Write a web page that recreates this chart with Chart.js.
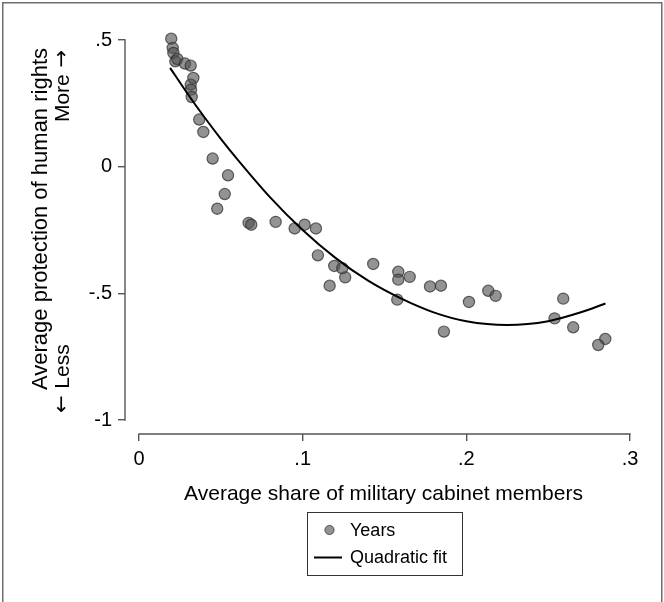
<!DOCTYPE html>
<html>
<head>
<meta charset="utf-8">
<script src="https://cdn.jsdelivr.net/npm/chart.js@4.4.1/dist/chart.umd.min.js"></script>
<style>
  html, body { margin: 0; padding: 0; background: #fff; }
  #c { display: block; }
</style>
</head>
<body>
<canvas id="c" width="664" height="602"></canvas>
<script>
// ---- Data ----
const yearsX = [0.0197, 0.0206, 0.0210, 0.0222, 0.0234, 0.0281, 0.0316, 0.0332, 0.0316, 0.0318,
                0.0322, 0.0368, 0.0393, 0.0450, 0.0544, 0.0524, 0.0478, 0.0670, 0.0686, 0.0835,
                0.0951, 0.1012, 0.1081, 0.1093, 0.1193, 0.1242, 0.1260, 0.1165, 0.1431, 0.1584,
                0.1584, 0.1654, 0.1578, 0.1778, 0.1845, 0.1863, 0.2016, 0.2134, 0.2179, 0.2592,
                0.2539, 0.2653, 0.2849, 0.2806];
const yearsY = [0.505, 0.469, 0.449, 0.416, 0.425, 0.407, 0.399, 0.350, 0.324, 0.304,
                0.275, 0.186, 0.137, 0.032, -0.034, -0.108, -0.166, -0.222, -0.229, -0.218,
                -0.244, -0.229, -0.244, -0.350, -0.392, -0.401, -0.437, -0.470, -0.384, -0.415,
                -0.446, -0.435, -0.525, -0.473, -0.470, -0.651, -0.534, -0.490, -0.510, -0.521,
                -0.599, -0.634, -0.680, -0.704];
const fitX = [0.019, 0.030, 0.040, 0.050, 0.060, 0.080, 0.100, 0.120, 0.140, 0.160, 0.180, 0.200, 0.225, 0.250, 0.270, 0.285];
const fitY = [0.390, 0.285, 0.195, 0.110, 0.030, -0.120, -0.250, -0.360, -0.450, -0.520, -0.575, -0.610, -0.625, -0.610, -0.575, -0.540];

const xTickValues = [0, 0.1, 0.2, 0.3];
const xTickLabels = ['0', '.1', '.2', '.3'];
const yTickValues = [-1, -0.5, 0, 0.5];
const yTickLabels = ['-1', '-.5', '0', '.5'];

const xTitle = 'Average share of military cabinet members';
const yTitle = 'Average protection of human rights';
const yLessWord = 'Less';
const yMoreWord = 'More';
const arrowLeft = '\u2190';
const arrowRight = '\u2192';
const legendLabels = ['Years', 'Quadratic fit'];

// ---- Styles ----
const FONT = '"Liberation Sans", Arial, Helvetica, sans-serif';
const ARROW_FONT = '"DejaVu Sans", sans-serif';
const pointFill = 'rgba(80,80,80,0.62)';
const pointEdge = 'rgba(45,45,45,0.72)';
const axisColor = '#555';

const yearsPts = yearsX.map((x, i) => ({ x: x, y: yearsY[i] }));
const fitPts = fitX.map((x, i) => ({ x: x, y: fitY[i] }));

function labelFor(values, labels, v) {
  for (let i = 0; i < values.length; i++) if (Math.abs(values[i] - v) < 1e-9) return labels[i];
  return '';
}

const decor = {
  id: 'decor',
  beforeDraw(chart) {
    const ctx = chart.ctx;
    ctx.save();
    ctx.fillStyle = '#fff';
    ctx.fillRect(0, 0, chart.width, chart.height);
    ctx.restore();
  },
  beforeDatasetsDraw(chart) {
    const ctx = chart.ctx;
    const xs = chart.scales.x, ys = chart.scales.y;
    const area = chart.chartArea;
    ctx.save();
    ctx.strokeStyle = axisColor;
    ctx.lineWidth = 1.4;
    ctx.beginPath();
    ctx.moveTo(xs.getPixelForValue(xTickValues[0]) - 0.7, area.bottom);
    ctx.lineTo(xs.getPixelForValue(xTickValues[xTickValues.length - 1]) + 0.7, area.bottom);
    ctx.stroke();
    ctx.beginPath();
    ctx.moveTo(area.left, ys.getPixelForValue(yTickValues[0]) + 0.7);
    ctx.lineTo(area.left, ys.getPixelForValue(yTickValues[yTickValues.length - 1]) - 0.7);
    ctx.stroke();
    ctx.restore();
  },
  afterDraw(chart) {
    const ctx = chart.ctx;
    const xs = chart.scales.x;
    ctx.save();
    // outer frame
    ctx.strokeStyle = '#6e6e6e';
    ctx.lineWidth = 1.5;
    ctx.strokeRect(2.75, 2.75, 659, 620);

    ctx.fillStyle = '#000';
    // x title
    ctx.font = '21px ' + FONT;
    ctx.textAlign = 'center';
    ctx.textBaseline = 'alphabetic';
    const xc = (xs.getPixelForValue(0) + xs.getPixelForValue(0.3)) / 2;
    ctx.fillText(xTitle, xc - 1, 500);

    // y title (rotated)
    ctx.save();
    ctx.translate(47, 219);
    ctx.rotate(-Math.PI / 2);
    ctx.font = '22px ' + FONT;
    ctx.textAlign = 'center';
    ctx.fillText(yTitle, 0, 0);
    ctx.restore();

    // "← Less" starting at bottom
    ctx.save();
    ctx.translate(69, 413);
    ctx.rotate(-Math.PI / 2);
    ctx.textAlign = 'left';
    ctx.font = '21px ' + ARROW_FONT;
    const aw1 = ctx.measureText(arrowLeft + ' ').width;
    ctx.fillText(arrowLeft, 0, -1);
    ctx.font = '21px ' + FONT;
    ctx.fillText(yLessWord, aw1, 0);
    ctx.restore();

    // "More →" ending at top
    ctx.save();
    ctx.translate(69, 50);
    ctx.rotate(-Math.PI / 2);
    ctx.textAlign = 'right';
    ctx.font = '21px ' + ARROW_FONT;
    const aw2 = ctx.measureText(' ' + arrowRight).width;
    ctx.fillText(arrowRight, 0, -1);
    ctx.font = '21px ' + FONT;
    ctx.fillText(yMoreWord, -aw2, 0);
    ctx.restore();

    // legend
    ctx.strokeStyle = '#333';
    ctx.lineWidth = 1;
    ctx.strokeRect(307.5, 512.5, 155, 63);
    ctx.beginPath();
    ctx.arc(329.5, 530, 4.6, 0, Math.PI * 2);
    ctx.fillStyle = pointFill;
    ctx.fill();
    ctx.strokeStyle = pointEdge;
    ctx.lineWidth = 1;
    ctx.stroke();
    ctx.beginPath();
    ctx.strokeStyle = '#000';
    ctx.lineWidth = 2;
    ctx.moveTo(314, 557.5);
    ctx.lineTo(342, 557.5);
    ctx.stroke();
    ctx.fillStyle = '#000';
    ctx.font = '18px ' + FONT;
    ctx.textAlign = 'left';
    ctx.textBaseline = 'middle';
    ctx.fillText(legendLabels[0], 350, 531);
    ctx.fillText(legendLabels[1], 350, 558);
    ctx.restore();
  }
};

new Chart(document.getElementById('c'), {
  type: 'scatter',
  data: {
    datasets: [
      {
        label: legendLabels[0],
        data: yearsPts,
        pointRadius: 5.6,
        pointHoverRadius: 5.6,
        pointBackgroundColor: pointFill,
        pointBorderColor: pointEdge,
        pointBorderWidth: 1.2,
        showLine: false,
        clip: false,
        order: 2
      },
      {
        label: legendLabels[1],
        data: fitPts,
        showLine: true,
        borderColor: '#000',
        borderWidth: 2,
        pointRadius: 0,
        cubicInterpolationMode: 'monotone',
        fill: false,
        clip: false,
        order: 1
      }
    ]
  },
  options: {
    responsive: false,
    animation: false,
    devicePixelRatio: 1,
    layout: { padding: { top: 40, right: 34, left: 0, bottom: 0 } },
    plugins: {
      legend: { display: false },
      tooltip: { enabled: false },
      title: { display: false }
    },
    scales: {
      x: {
        type: 'linear',
        min: -0.00855,
        max: 0.3,
        afterBuildTicks: s => { s.ticks = xTickValues.map(v => ({ value: v })); },
        afterFit: s => { s.height = 168; },
        border: { display: false },
        grid: { display: true, drawOnChartArea: false, drawTicks: true, tickLength: 7, color: axisColor, lineWidth: 1.4 },
        ticks: {
          autoSkip: false,
          maxRotation: 0,
          padding: 6,
          color: '#000',
          font: { family: FONT, size: 20 },
          callback: v => labelFor(xTickValues, xTickLabels, v)
        }
      },
      y: {
        type: 'linear',
        min: -1.0553,
        max: 0.5,
        afterBuildTicks: s => { s.ticks = yTickValues.map(v => ({ value: v })); },
        afterFit: s => { s.width = 125; },
        border: { display: false },
        grid: { display: true, drawOnChartArea: false, drawTicks: true, tickLength: 7, color: axisColor, lineWidth: 1.4 },
        ticks: {
          autoSkip: false,
          padding: 6,
          color: '#000',
          font: { family: FONT, size: 20 },
          callback: v => labelFor(yTickValues, yTickLabels, v)
        }
      }
    }
  },
  plugins: [decor]
});
</script>
</body>
</html>
